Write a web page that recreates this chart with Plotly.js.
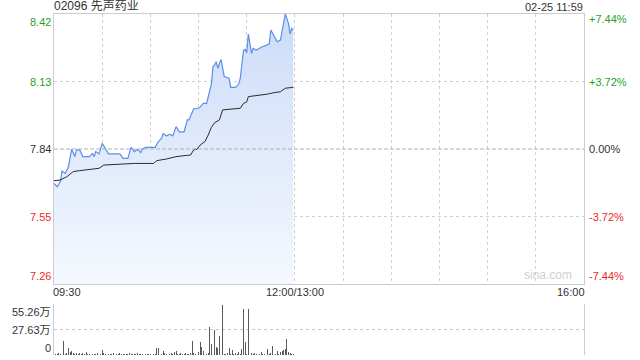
<!DOCTYPE html>
<html><head><meta charset="utf-8">
<script src="https://cdn.plot.ly/plotly-3.0.1.min.js"></script>
<style>html,body{margin:0;padding:0;background:#fff;} #chart{width:640px;height:360px;}</style>
</head><body><div id="chart"></div>
<script>
const stockTitle = '02096 先声药业';
const stampText = '02-25 11:59';
const priceTicks = [8.42, 8.13, 7.84, 7.55, 7.26];
const priceTickText = ['8.42', '8.13', '7.84', '7.55', '7.26'];
const pctTickText = ['+7.44%', '+3.72%', '0.00%', '-3.72%', '-7.44%'];
const timeTickVals = [0, 150, 330];
const timeTickText = ['09:30', '12:00/13:00', '16:00'];
const volTicks = [55.26, 27.63, 0];
const volTickText = ['55.26万', '27.63万', '0'];

// minute index from 09:30 (morning 0..150, afternoon 150..330)
const priceIdx = [0,2,4,5,7,9,11,13,14,16,18,22,24,25,26,28,30,33,34,41,43,46,48,50,52,54,55,57,63,65,67,68,70,72,74,76,78,81,83,84,87,89,91,92,93,95,97,98,99,100,101,102,104,105,106,109,110,113,115,116,118,119,120,121,122,123,124,126,129,134,135,137,139,141,144,146,147,148,149];
const priceVals = [7.692,7.678,7.700,7.745,7.735,7.764,7.839,7.807,7.836,7.836,7.807,7.807,7.821,7.807,7.829,7.819,7.864,7.829,7.819,7.819,7.800,7.800,7.847,7.829,7.839,7.824,7.839,7.847,7.847,7.872,7.886,7.907,7.896,7.904,7.896,7.936,7.914,7.914,7.965,7.965,8.013,8.013,8.019,8.029,8.036,8.036,8.096,8.119,8.194,8.201,8.215,8.187,8.225,8.187,8.151,8.144,8.105,8.105,8.119,8.144,8.265,8.268,8.254,8.334,8.280,8.251,8.272,8.265,8.277,8.291,8.351,8.325,8.301,8.308,8.420,8.380,8.334,8.358,8.351];
const avgIdx = [0,4,8,12,16,22,28,31,37,50,62,64,70,76,83,85,87,89,91,94,96,98,100,103,105,108,116,118,120,121,126,133,137,141,144,149];
const avgVals = [7.704,7.707,7.721,7.743,7.747,7.753,7.757,7.771,7.774,7.778,7.778,7.790,7.797,7.807,7.813,7.814,7.836,7.839,7.857,7.872,7.900,7.933,7.953,7.965,8.008,8.010,8.015,8.036,8.042,8.065,8.069,8.076,8.082,8.086,8.101,8.105];
// volume (万) per minute, index 0..149
const volVals = [7.4,1.5,1.0,1.8,1.2,2.0,15.8,1.5,2.5,7.7,3.0,4.5,2.0,1.2,2.5,1.0,1.8,1.2,2.2,1.0,
3.0,1.0,0.8,1.5,1.0,1.2,0.8,2.0,1.0,1.5,5.5,2.0,1.2,1.0,1.5,0.8,1.2,2.0,1.0,1.5,
0.8,2.5,1.0,1.2,0.8,1.5,1.0,2.2,1.0,1.5,0.8,1.2,2.0,1.0,1.5,0.8,1.2,1.0,1.5,0.8,
1.2,1.0,1.5,0.8,7.4,8.0,2.0,1.5,4.0,2.5,1.0,1.8,1.2,2.0,1.0,3.0,4.5,1.5,1.0,2.0,
1.2,1.5,2.0,1.0,1.5,2.5,15.0,2.0,1.0,1.5,3.0,14.0,8.5,4.5,4.0,1.5,2.0,30.5,11.5,21.3,
26.9,9.0,7.5,20.3,2.0,54.5,1.5,1.0,2.0,8.0,1.5,5.5,1.0,2.0,1.5,3.0,1.2,6.0,49.7,14.7,
1.5,49.7,5.0,2.0,1.5,2.5,1.0,2.0,1.2,3.5,1.5,1.0,2.0,6.0,1.5,2.0,10.3,2.5,1.5,4.5,
1.0,3.0,4.0,5.5,6.5,17.7,3.0,2.5,1.5,1.0];
const volIdx = volVals.map((v, i) => i);

const GREEN = '#1fa31f', RED = '#f02828', DARK = '#333333';
const labelColors = [GREEN, GREEN, DARK, RED, RED];
const FONT = 'Liberation Sans, Arial, Noto Sans CJK SC, sans-serif';
const yMin = priceTicks[priceTicks.length - 1], yMax = priceTicks[0];
const mainBottom = 0.2082, volTop = 0.1487;

const traces = [
  { x: priceIdx, y: priceIdx.map(() => yMin), type: 'scatter', mode: 'lines',
    line: { width: 0, color: 'rgba(0,0,0,0)' }, hoverinfo: 'skip', showlegend: false, xaxis: 'x', yaxis: 'y' },
  { x: priceIdx, y: priceVals, type: 'scatter', mode: 'lines', fill: 'tonexty',
    fillgradient: { type: 'vertical', start: yMin, stop: yMax,
      colorscale: [[0, 'rgb(245,248,254)'], [1, 'rgb(204,220,248)']] },
    line: { color: '#5a8fe6', width: 1.2 }, showlegend: false, xaxis: 'x', yaxis: 'y' },
  { x: avgIdx, y: avgVals, type: 'scatter', mode: 'lines',
    line: { color: '#2b2b2b', width: 1 }, showlegend: false, xaxis: 'x', yaxis: 'y' },
  { x: volIdx, y: volVals, type: 'bar', width: 0.55, marker: { color: '#5a5a5a', line: { width: 0 } },
    showlegend: false, xaxis: 'x2', yaxis: 'y2' }
];

const annotations = [];
annotations.push({ text: stockTitle, xref: 'paper', yref: 'paper', x: 0, y: 1, xanchor: 'left', yanchor: 'bottom',
  showarrow: false, font: { family: FONT, size: 12, color: DARK }, xshift: -2, yshift: -1 });
annotations.push({ text: stampText, xref: 'paper', yref: 'paper', x: 1, y: 1, xanchor: 'right', yanchor: 'bottom',
  showarrow: false, font: { family: FONT, size: 11, color: DARK }, xshift: 1, yshift: -1 });
priceTicks.forEach((v, i) => {
  const anchor = i === 0 ? 'top' : (i === priceTicks.length - 1 ? 'bottom' : 'middle');
  annotations.push({ text: priceTickText[i], xref: 'paper', yref: 'y', x: 0, y: v, xanchor: 'right', yanchor: anchor,
    showarrow: false, font: { family: FONT, size: 11, color: labelColors[i] }, xshift: -1 });
  annotations.push({ text: pctTickText[i], xref: 'paper', yref: 'y', x: 1, y: v, xanchor: 'left', yanchor: anchor,
    showarrow: false, font: { family: FONT, size: 11, color: labelColors[i] }, xshift: 3, yshift: i === 0 ? 3 : 0 });
});
const tAnch = ['left', 'center', 'right'];
timeTickVals.forEach((v, i) => {
  annotations.push({ text: timeTickText[i], xref: 'x', yref: 'y domain', x: v, y: 0, xanchor: tAnch[i], yanchor: 'top',
    showarrow: false, font: { family: FONT, size: 11, color: DARK }, xshift: i === 0 ? -3 : (i === 2 ? 3 : 0) });
});
volTicks.forEach((v, i) => {
  const anchor = i === 0 ? 'top' : (i === volTicks.length - 1 ? 'bottom' : 'middle');
  annotations.push({ text: volTickText[i], xref: 'paper', yref: 'y2', x: 0, y: v, xanchor: 'right', yanchor: anchor,
    showarrow: false, font: { family: FONT, size: 11, color: DARK }, xshift: -1, yshift: i === 2 ? -1 : 0 });
});
annotations.push({ text: 'sina.com', xref: 'x domain', yref: 'y domain', x: 0.982, y: 0, xanchor: 'right', yanchor: 'bottom',
  showarrow: false, font: { family: FONT, size: 12, color: '#cfcfcf' } });

const layout = {
  width: 640, height: 360,
  margin: { l: 54, r: 56, t: 14, b: 5 },
  paper_bgcolor: '#fff', plot_bgcolor: '#fff',
  showlegend: false, bargap: 0,
  xaxis: { domain: [0, 1], range: [0, 330], anchor: 'y', tickmode: 'linear', tick0: 0, dtick: 30,
    showticklabels: false, ticks: '', showgrid: true, gridcolor: '#d0d0d0', griddash: 'dot', gridwidth: 1,
    showline: true, mirror: true, linecolor: '#cccccc', linewidth: 1, zeroline: false, fixedrange: true },
  yaxis: { domain: [mainBottom, 1], range: [yMin, yMax], anchor: 'x', tickvals: [priceTicks[1], priceTicks[3]],
    showticklabels: false, ticks: '', showgrid: true, gridcolor: '#d0d0d0', griddash: 'dot', gridwidth: 1,
    showline: true, mirror: true, linecolor: '#cccccc', linewidth: 1, zeroline: false, fixedrange: true },
  xaxis2: { domain: [0, 1], range: [0, 330], anchor: 'y2', showticklabels: false, ticks: '', showgrid: false,
    showline: false, zeroline: false, fixedrange: true },
  yaxis2: { domain: [0, volTop], range: [0, volTicks[0]], anchor: 'x2', tickvals: [volTicks[1], volTicks[0]],
    showticklabels: false, ticks: '', showgrid: true, gridcolor: '#c8c8c8', griddash: 'dot', gridwidth: 1,
    showline: true, mirror: true, linecolor: '#cccccc', linewidth: 1, zeroline: false, fixedrange: true },
  shapes: [
    { type: 'line', xref: 'x domain', yref: 'y', x0: 0, x1: 1, y0: priceTicks[2], y1: priceTicks[2],
      line: { color: '#b0b0b0', width: 1, dash: '4px,2px' } }
  ],
  annotations: annotations
};

Plotly.newPlot('chart', traces, layout, { staticPlot: true, displayModeBar: false });
</script>
</body></html>
